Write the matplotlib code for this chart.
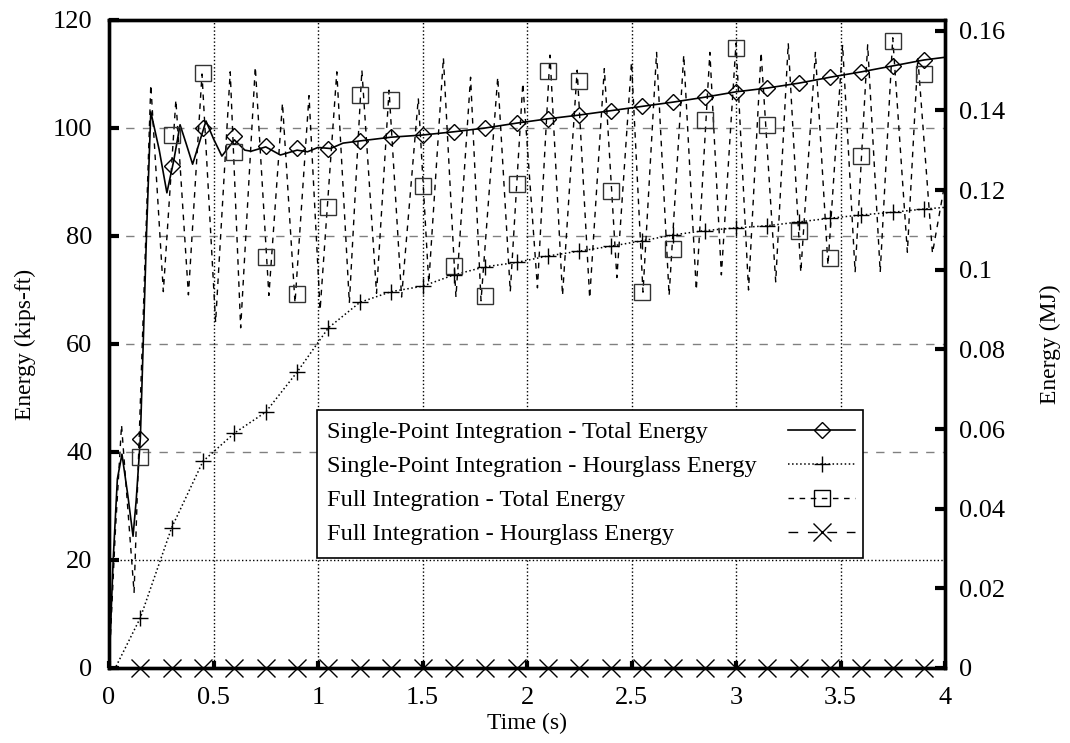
import matplotlib
matplotlib.use("Agg")
import matplotlib.pyplot as plt
from matplotlib.patches import Rectangle
from matplotlib.ticker import FuncFormatter

plt.rcParams['font.family'] = ['Liberation Serif', 'DejaVu Serif']
plt.rcParams['font.size'] = 19

# Single-point integration, total energy (kips-ft)
sp_total_t = [0, 0.02, 0.04, 0.062, 0.09, 0.115, 0.13, 0.15, 0.18, 0.20, 0.24, 0.277,
              0.31, 0.34, 0.37, 0.40, 0.43, 0.464, 0.50, 0.54, 0.60, 0.65, 0.68, 0.75,
              0.82, 0.90, 0.95, 1.0, 1.06, 1.12, 1.2, 1.35, 1.5, 1.65, 1.8, 1.95, 2.1,
              2.25, 2.4, 2.55, 2.7, 2.85, 3.0, 3.15, 3.3, 3.45, 3.6, 3.75, 3.9, 4.0]
sp_total_e = [0, 20, 35, 39.6, 32, 24.4, 31, 42.5, 81, 103, 96, 88,
              94, 100.6, 97, 93.3, 97, 101.3, 98, 94.8, 97.8, 95.9, 95.7, 96.5,
              95, 95.9, 95.6, 96.4, 96.2, 97.2, 97.6, 98.3, 98.7, 99.3, 100, 100.9, 101.7,
              102.4, 103.2, 104, 104.8, 105.7, 106.7, 107.4, 108.3, 109.4, 110.4, 111.5, 112.6, 113.1]

# marker samples (every 0.15 s)
mark_t = [0.15, 0.30, 0.45, 0.60, 0.75, 0.90, 1.05, 1.20, 1.35, 1.50, 1.65, 1.80, 1.95,
          2.10, 2.25, 2.40, 2.55, 2.70, 2.85, 3.00, 3.15, 3.30, 3.45, 3.60, 3.75, 3.90]
sp_total_m = [42.5, 93, 100, 98.5, 96.7, 96.3, 96.2, 97.6, 98.3, 98.7, 99.3, 100, 100.9,
              101.7, 102.4, 103.2, 104, 104.8, 105.7, 106.7, 107.4, 108.3, 109.4, 110.4, 111.5, 112.6]

# Single-point integration, hourglass energy
sp_hg_t = [0, 0.03, 0.15, 0.30, 0.45, 0.60, 0.75, 0.90, 1.05, 1.20, 1.35, 1.50, 1.65, 1.80,
           1.95, 2.10, 2.25, 2.40, 2.55, 2.70, 2.85, 3.00, 3.15, 3.30, 3.45, 3.60, 3.75, 3.90, 4.0]
sp_hg_e = [0, 0, 9.3, 26, 38.3, 43.5, 47.4, 54.8, 63, 67.7, 69.7, 70.7, 72.8, 74.3,
           75.1, 76.3, 77.2, 78.1, 79.1, 80.2, 81, 81.5, 81.9, 82.6, 83.3, 83.9, 84.4, 85, 85.3]
sp_hg_m = [9.3, 26, 38.3, 43.5, 47.4, 54.8, 63, 67.7, 69.7, 70.7, 72.8, 74.3, 75.1,
           76.3, 77.2, 78.1, 79.1, 80.2, 81, 81.5, 81.9, 82.6, 83.3, 83.9, 84.4, 85]

# Full integration, total energy (peaks / troughs)
fi_total_t = [0, 0.03, 0.06, 0.12, 0.20, 0.26, 0.32, 0.38, 0.445, 0.51, 0.58, 0.63, 0.70,
              0.765, 0.83, 0.89, 0.957, 1.01, 1.09, 1.15, 1.21, 1.28, 1.34, 1.40, 1.48,
              1.53, 1.60, 1.66, 1.73, 1.78, 1.86, 1.92, 1.98, 2.05, 2.11, 2.17, 2.24,
              2.30, 2.37, 2.43, 2.50, 2.555, 2.62, 2.68, 2.75, 2.81, 2.875, 2.93, 3.0,
              3.06, 3.12, 3.19, 3.25, 3.31, 3.38, 3.44, 3.51, 3.57, 3.63, 3.69, 3.75,
              3.82, 3.87, 3.94, 4.0]
fi_total_e = [0, 25, 45, 14, 108, 69.7, 105.2, 69.1, 110, 64, 110.4, 63, 111.3,
              69, 104.6, 67.6, 106, 66.3, 110.4, 67.6, 110.7, 69.4, 107, 68.7, 105.5,
              71.3, 113, 68.7, 109.4, 68, 109.4, 69.7, 108.3, 70.4, 113.5, 69, 110.7,
              68.5, 111, 72.3, 112.2, 69.6, 114, 69, 113.5, 70, 114, 72.8, 115.7,
              70, 114, 71.5, 115.7, 73.3, 114, 74.6, 115.4, 73.3, 115.4, 73.3, 116.7,
              77, 113, 76.8, 90]
fi_total_m = [39, 98.7, 110.1, 95.6, 76.1, 69.3, 85.4, 106.1, 105.2, 89.3, 74.5, 68.8, 89.6,
              110.5, 108.7, 88.4, 69.6, 77.6, 101.5, 114.8, 100.5, 80.9, 75.9, 94.8, 116.1, 110]

# Full integration, hourglass energy
fi_hg_t = [0, 4.0]
fi_hg_e = [0, 0]
fi_hg_m = [0] * len(mark_t)

left_ticks = [0, 20, 40, 60, 80, 100, 120]
right_ticks = [0, 0.02, 0.04, 0.06, 0.08, 0.1, 0.12, 0.14, 0.16]
x_ticks = [0, 0.5, 1, 1.5, 2, 2.5, 3, 3.5, 4]
kipft_to_MJ = 0.0013558

labels = ["Single-Point Integration - Total Energy",
          "Single-Point Integration - Hourglass Energy",
          "Full Integration - Total Energy",
          "Full Integration - Hourglass Energy"]

fig = plt.figure(figsize=(10.70, 7.43), dpi=100)
ax = fig.add_axes([109 / 1070, 1 - 668 / 743, 836 / 1070, 648 / 743])

dash_fi = (0, (4, 4))
dash_hg = (0, (7, 7))

# grid
ax.xaxis.grid(True, ls=':', color='k', lw=1)
for v in left_ticks[1:-1]:
    if v == 20:
        ax.axhline(v, color='k', ls=':', lw=1, zorder=0.5)
    else:
        ax.axhline(v, color='#808080', ls=(0, (6, 6)), lw=1, zorder=0.5)
ax.set_axisbelow(True)

styles = [
    dict(ls='-', lw=1.2, marker='D', ms=8, mfc='none', mec='k', mew=1),
    dict(ls=':', lw=1.1, marker='+', ms=12, mec='k', mew=1),
    dict(ls=dash_fi, lw=1, marker='s', ms=12, mfc='none', mec='#333333', mew=1),
    dict(ls=dash_hg, lw=1, marker='x', ms=13, mec='k', mew=1),
]
series = [
    (sp_total_t, sp_total_e, sp_total_m),
    (sp_hg_t, sp_hg_e, sp_hg_m),
    (fi_total_t, fi_total_e, fi_total_m),
    (fi_hg_t, fi_hg_e, fi_hg_m),
]
for (t, e, m), st in zip(series[::-1], styles[::-1]):
    ax.plot(t, e, color='k', ls=st['ls'], lw=st['lw'], zorder=2)
    ax.plot(mark_t, m, ls='none', marker=st['marker'], ms=st['ms'],
            mfc=st.get('mfc', 'k'), mec=st['mec'], mew=st['mew'], clip_on=False, zorder=3)

ax.set_xlim(0, 4)
ax.set_ylim(0, 120)
ax.set_xticks(x_ticks)
ax.set_yticks(left_ticks)
fmt = FuncFormatter(lambda v, p: f"{v:g}")
ax.xaxis.set_major_formatter(fmt)
ax.yaxis.set_major_formatter(fmt)
ax.tick_params(axis='y', direction='in', length=7, width=3, pad=12, right=False)
ax.tick_params(axis='x', direction='in', length=5, width=3, pad=14, top=False)
for s in ax.spines.values():
    s.set_linewidth(2.4)

ax2 = ax.twinx()
ax2.set_ylim(0, 120 * kipft_to_MJ)
ax2.set_yticks(right_ticks)
ax2.yaxis.set_major_formatter(fmt)
ax2.tick_params(axis='y', direction='in', length=7, width=3, pad=10)
for s in ax2.spines.values():
    s.set_linewidth(2.4)

ax.set_ylabel("Energy (kips-ft)", fontsize=17)
ax.yaxis.label.set(va='center', ha='center')
ax.yaxis.set_label_coords((25 - 109) / 836, 0.5)
ax2.set_ylabel("Energy (MJ)", fontsize=17)
ax2.yaxis.label.set(va='center', ha='center', rotation=90)
ax2.yaxis.set_label_coords((1050 - 109) / 836, 0.5)
ax.set_xlabel("Time (s)", fontsize=17)
ax.xaxis.label.set(va='center', ha='center')
ax.xaxis.set_label_coords(0.5, (668 - 723) / 648)

# legend box: text on the left, sample on the right (gnuplot style)
ax.add_patch(Rectangle((0.249, 0.170), 0.653, 0.228, transform=ax.transAxes,
                       facecolor='white', edgecolor='k', lw=1.2, zorder=5))
row_y = [0.3673, 0.3148, 0.2623, 0.2099]
for y, lab, st in zip(row_y, labels, styles):
    ax.text(0.261, y - 0.012, lab, transform=ax.transAxes, ha='left', va='baseline',
            fontsize=17.6, zorder=6)
    ax.plot([0.8122, 0.8523, 0.8923], [y, y, y], transform=ax.transAxes, color='k',
            ls=st['ls'], lw=st['lw'], marker=st['marker'], ms=st['ms'], markevery=[1],
            mfc=st.get('mfc', 'k'), mec='k', mew=st['mew'], clip_on=False, zorder=6)

fig.savefig("out.png", dpi=100)
